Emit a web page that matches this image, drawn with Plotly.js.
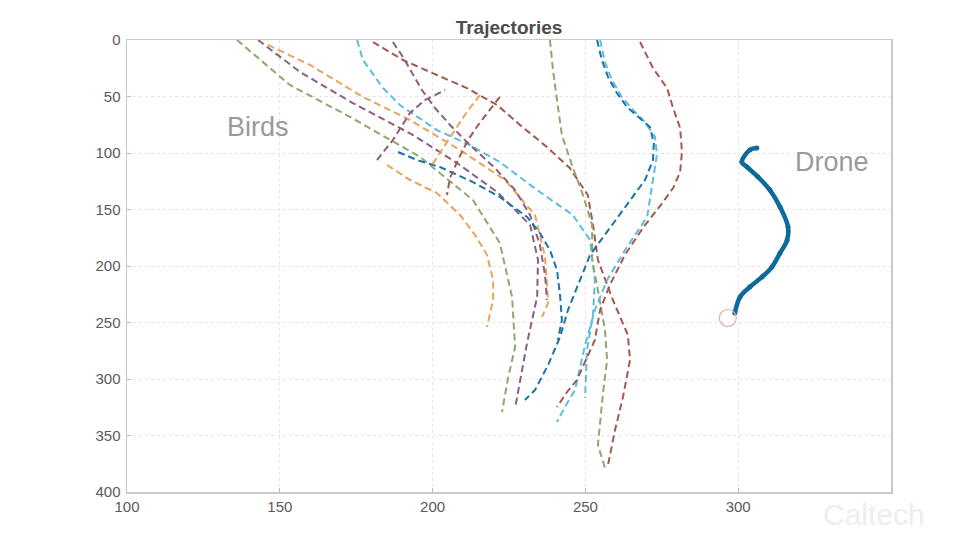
<!DOCTYPE html>
<html>
<head>
<meta charset="utf-8">
<script src="https://cdn.plot.ly/plotly-3.0.1.min.js"></script>
<style>html,body{margin:0;padding:0;background:#fff;}#chart{width:980px;height:551px;}</style>
</head>
<body>
<div id="chart"></div>
<script>
// ---- data (x = horizontal position, y = vertical position, axis reversed) ----
const xTicks = [100, 150, 200, 250, 300];
const yTicks = [0, 50, 100, 150, 200, 250, 300, 350, 400];

const g1X = [136.0,153.3,173.0,195.9,213.2,222.0,226.0,227.0,224.7,222.7];
const g1Y = [0,39.8,68.1,103.5,141.6,179.7,227.4,271.7,299.1,329.2];

const p1X = [142.9,156.6,173.9,193.6,208.0,221.1,231.9,234.5,234.2,230.9,227.0];
const p1Y = [0,28.3,55.8,84.1,108.9,134.5,163.7,194.7,227.4,268.2,325.7];

const o1X = [146.1,159.9,177.2,192.6,209.0,223.7,233.5,236.8,237.8,235.8];
const o1Y = [4.4,22.1,50.4,70.8,97.4,123.9,154.9,192.0,232.8,245.1];

const lb1X = [175.3,177.2,183.8,189.3,201.4,212.2,222.0,234.2,245.9,251.5,253.1,252.5,250.5,249.9];
const lb1Y = [0,17.7,42.5,57.5,79.7,92.9,108.0,132.8,154.9,177.0,212.4,243.4,274.4,316.8];

const p2X = [180.5,190.3,201.4,211.2,221.1,228.6,237.4,244.9,250.8,252.5,254.1,259.0,263.9,264.6,262.3,259.7,257.4];
const p2Y = [1.8,17.7,31.0,42.5,57.5,75.2,94.7,113.3,137.2,163.7,194.7,230.1,261.1,283.2,315.9,345.2,376.1];

const br1X = [187.0,190.3,193.3,196.5,200.8,205.7,212.2,220.4,227.0,231.9,235.1,236.8,237.4];
const br1Y = [1.8,15.0,29.2,44.3,60.2,75.2,92.9,113.3,132.8,154.9,181.4,208.0,230.1];

const g2X = [238.4,239.4,240.7,242.3,245.6,249.2,252.2,252.2,254.1,256.4,257.1,255.8,254.8,254.1,256.4];
const g2Y = [0,26.6,53.1,84.1,110.6,137.2,163.7,194.7,221.3,256.7,283.2,311.5,339.0,358.4,378.8];

const b1X = [253.8,255.4,257.4,260.3,263.6,267.9,271.1,272.4,272.1,269.5,264.6,258.0,251.5,247.6,244.3,241.7,237.8,233.5,230.2];
const b1Y = [0,17.7,32.7,46.9,59.3,69.0,77.0,91.2,106.2,123.9,141.6,166.4,190.3,216.8,239.0,262.8,287.6,309.8,318.6];

const lb2X = [254.8,256.4,258.7,261.9,265.6,269.5,272.8,273.4,272.1,270.2,263.6,257.1,253.1,249.9,246.6,243.3,240.7];
const lb2Y = [0,19.5,35.4,50.4,62.0,72.6,85.8,101.8,123.9,156.6,183.2,212.4,239.0,269.9,309.8,324.8,338.1];

const br2X = [267.9,272.1,276.7,278.7,281.0,281.6,281.0,278.7,275.4,268.8,262.9,258.0,254.8,253.1,247.2,244.0,240.7];
const br2Y = [1.8,24.8,42.5,60.2,77.9,99.1,116.8,131.0,143.4,166.4,190.3,216.8,239.0,265.5,300.9,311.5,324.8];

const b2X = [188.7,194.9,202.4,213.2,222.0,230.9,235.1,238.4,240.7,241.7,242.3,241.0];
const b2Y = [99.1,106.2,112.4,125.7,138.9,156.6,170.8,185.9,203.6,225.7,247.8,265.5];

const o2X = [185.1,192.6,201.4,209.0,213.9,217.8,219.8,219.8,217.8];
const o2Y = [110.6,123.9,135.4,154.9,172.6,190.3,212.4,230.1,254.0];

const o3X = [215.5,211.2,207.3,203.4,199.8];
const o3Y = [48.7,63.7,79.7,95.6,110.6];

const p3X = [181.8,187.0,192.6,197.5,204.1];
const p3Y = [106.2,88.5,64.6,53.1,44.3];

const br3X = [222.0,218.8,214.9,211.6,208.3,205.7,204.7];
const br3Y = [50.4,61.9,75.2,88.5,106.2,122.1,137.2];

const droneX = [306.1,303.8,301.2,302.9,306.5,310.4,313.7,316.3,316.0,313.7,311.0,307.8,303.8,300.6,298.9];
const droneY = [95.6,97.4,108.0,112.4,121.2,132.8,147.8,165.5,177.0,188.5,200.9,209.7,218.6,227.4,241.6];

const startX = [296.6];
const startY = [246.0];

const labels = ["Birds", "Drone"];
const labelX = [142.9, 330.7];
const labelY = [77, 108];

// ---- styling ----
const C = {
  green: '#8fa86c', purple: '#8b5f7f', orange: '#eaa35a',
  lblue: '#5cbde2', blue: '#1b73a8', brown: '#a3594f'
};
const DASH = '7px,4px';
function bird(x, y, color) {
  return {x: x, y: y, type: 'scatter', mode: 'lines',
    line: {color: color, width: 2, dash: DASH}, hoverinfo: 'skip'};
}

const traces = [
  bird(g1X, g1Y, C.green),
  bird(o1X, o1Y, C.orange),
  bird(p1X, p1Y, C.purple),
  bird(lb1X, lb1Y, C.lblue),
  bird(p2X, p2Y, C.brown),
  bird(br1X, br1Y, C.purple),
  bird(g2X, g2Y, C.green),
  bird(lb2X, lb2Y, C.lblue),
  bird(b1X, b1Y, C.blue),
  bird(br2X, br2Y, C.brown),
  bird(o2X, o2Y, C.orange),
  bird(b2X, b2Y, C.blue),
  bird(o3X, o3Y, C.orange),
  bird(p3X, p3Y, C.purple),
  bird(br3X, br3Y, C.brown),
  {x: droneX, y: droneY, type: 'scatter', mode: 'lines+markers',
   line: {color: '#0e6a9b', width: 4.5, shape: 'spline'},
   marker: {color: '#0e6a9b', size: 5}, hoverinfo: 'skip'},
  {x: startX, y: startY, type: 'scatter', mode: 'markers',
   marker: {symbol: 'circle-open', size: 17, color: '#eaa7a4', line: {width: 1.2}}, hoverinfo: 'skip'}
];

const annotations = labels.map((t, i) => ({
  x: labelX[i], y: labelY[i], xref: 'x', yref: 'y', text: t, showarrow: false,
  font: {family: 'Liberation Sans, Arial, sans-serif', size: 27, color: '#9a9a9a'}
}));
annotations.push({x: 0.978, y: -0.05, xref: 'paper', yref: 'paper', xanchor: 'center', yanchor: 'middle',
  text: 'Caltech', showarrow: false,
  font: {family: 'Liberation Sans, Arial, sans-serif', size: 30, color: '#eeeeee'}});

const axisCommon = {
  showline: true, mirror: true, linecolor: '#c9c9c9', linewidth: 1.5,
  showgrid: true, gridcolor: '#eedfe8', griddash: 'dot', gridwidth: 1,
  ticks: 'inside', ticklen: 4, tickcolor: '#bbbbbb',
  zeroline: false,
  tickfont: {family: 'Liberation Sans, Arial, sans-serif', size: 15, color: '#5a5a5a'}
};

const layout = {
  width: 980, height: 551,
  margin: {l: 127, r: 89, t: 40, b: 59},
  paper_bgcolor: '#ffffff', plot_bgcolor: '#ffffff',
  showlegend: false,
  title: {text: '<b>Trajectories</b>', x: 0.5, xref: 'paper', xanchor: 'center', y: 0.95, yref: 'container', yanchor: 'middle',
    font: {family: 'Liberation Sans, Arial, sans-serif', size: 19, color: '#4c4c4c'}},
  xaxis: Object.assign({}, axisCommon, {range: [100, 350], tickvals: xTicks, ticktext: xTicks.map(String)}),
  yaxis: Object.assign({}, axisCommon, {range: [400, 0], tickvals: yTicks, ticktext: yTicks.map(String), ticklabelstandoff: 2}),
  annotations: annotations,
  hovermode: false
};

Plotly.newPlot('chart', traces, layout, {staticPlot: true, displayModeBar: false});
</script>
</body>
</html>
